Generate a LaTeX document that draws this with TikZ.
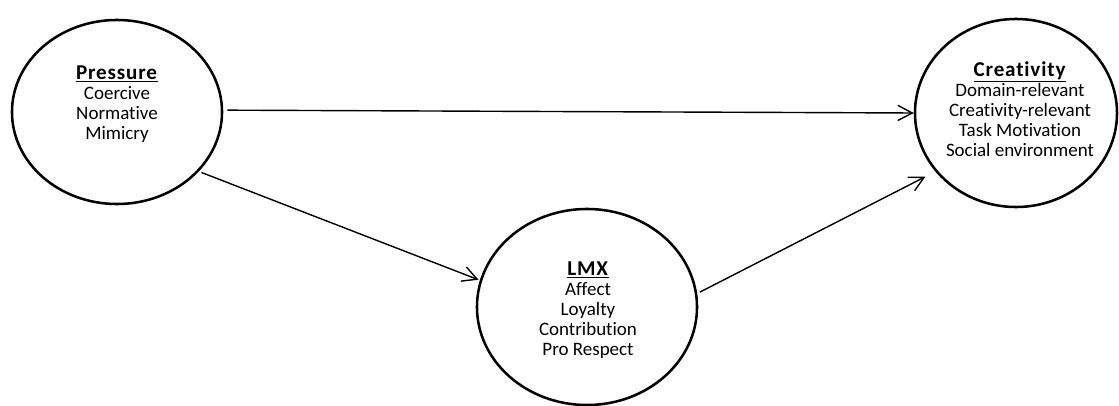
\documentclass[tikz,border=0pt]{standalone}
\usepackage{fontspec}
\setmainfont{Carlito}[Ligatures=NoCommon]
\usetikzlibrary{arrows.meta, shapes.geometric}
\newcommand\ctitle[1]{\underline{\fontsize{15}{14.3}\selectfont\textbf{\addfontfeatures{LetterSpace=4}#1}}}

\begin{document}
\begin{tikzpicture}[x=0.025cm, y=-0.025cm, >={Straight Barb[length=3.6mm,width=3.8mm]},
    blob/.style={ellipse, draw, line width=1.8pt},
    txt/.style={align=center, font=\fontsize{13.5}{14.3}\selectfont},
    link/.style={->, line width=1pt}]
    \useasboundingbox (0,0) rectangle (1119,406);

    % Constructs
    \node (pressure) at (117,112) [blob, minimum width=5.25cm, minimum height=4.6cm] {};
    \node (lmx) at (587,307) [blob, minimum width=5.5cm, minimum height=4.9cm] {};
    \node (creativity) at (1016,113) [blob, minimum width=5.05cm, minimum height=4.7cm] {};

    % Dimensions of each construct
    \node (pressuretxt) at (117,104) [txt] {\ctitle{Pressure}\\ Coercive\\ Normative\\ Mimicry};
    \node (lmxtxt) at (588,310) [txt] {\ctitle{LMX}\\ Affect\\ Loyalty\\ Contribution\\ Pro Respect};
    \node (creativitytxt) at (1020,109) [txt] {\ctitle{Creativity}\\ Domain-relevant\\ Creativity-relevant\\ Task Motivation\\ Social environment};

    % Paths
    \draw [link, shorten <=3pt] (pressure.1) -- (creativity.180);
    \draw [link, shorten <=2pt, shorten >=1pt] (pressure.-36) -- (lmx.166);
    \draw [link, shorten <=2pt, shorten >=8pt] (lmx.7) -- (creativity.216);
\end{tikzpicture}
\end{document}
